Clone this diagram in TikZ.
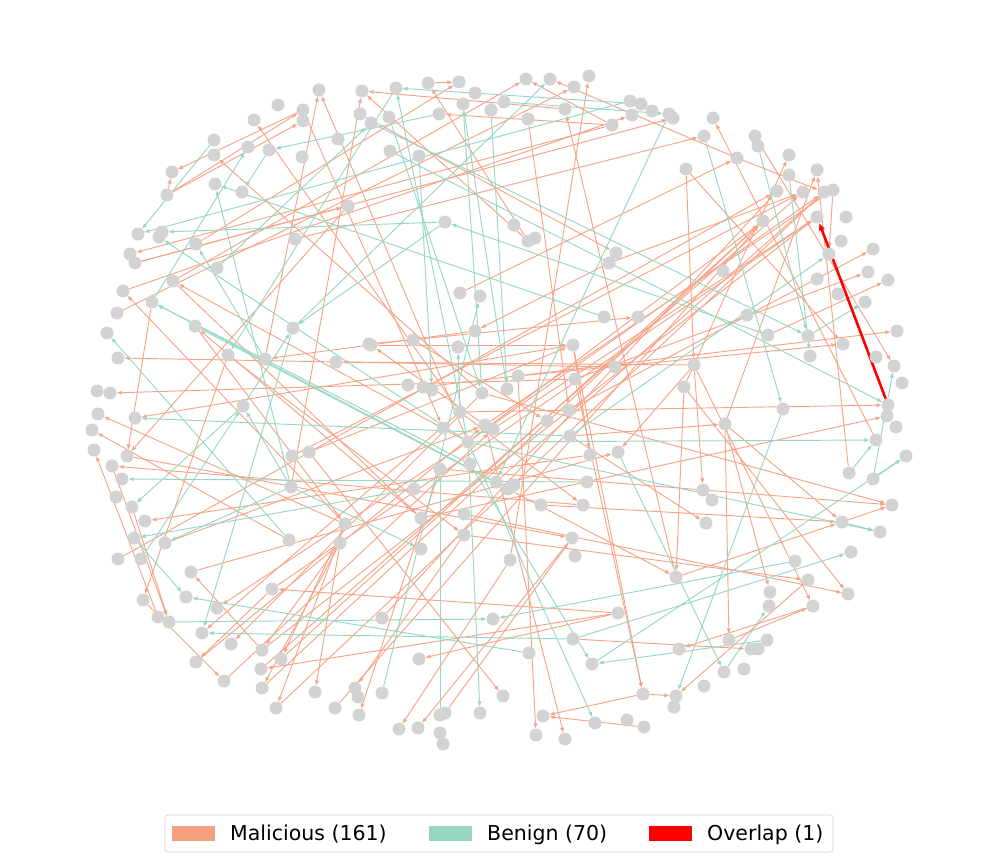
\documentclass[tikz,border=0pt]{standalone}
\usepackage{fontspec}
\setmainfont{DejaVu Sans}
\usetikzlibrary{arrows.meta}
\pgfdeclarelayer{bg}
\pgfsetlayers{bg,main}
\definecolor{ndc}{RGB}{211,211,211}
\definecolor{malc}{RGB}{246,164,136}
\definecolor{benc}{RGB}{152,215,195}
\definecolor{legmal}{RGB}{245,158,128}
\definecolor{legben}{RGB}{150,213,192}
\definecolor{legbox}{RGB}{210,210,210}
\begin{document}
\begin{tikzpicture}[x=1pt,y=-1pt,
  nd/.style={circle,fill=ndc,draw=none,inner sep=0pt,minimum size=13pt},
  mal/.style={draw=malc,line width=0.95pt,-{Triangle[length=5pt,width=3.6pt]}},
  ben/.style={draw=benc,line width=0.95pt,-{Triangle[length=5pt,width=3.6pt]}},
  ovl/.style={draw=red,line width=2.6pt,-{Triangle[length=7pt,width=5.5pt]}},
  legtext/.style={anchor=base west,inner sep=0pt,font=\fontsize{20.5}{24}\selectfont}]
\useasboundingbox (0,0) rectangle (997,859);
% nodes
\foreach \n/\x/\y in {a1/319/90, a2/362/91, a3/278/105, a4/303/110, a5/303/121, a6/254/120, a7/360/114, a8/371/123, a9/214/140, a10/214/155, a11/248/147, a12/269/150, a13/338/139, a14/302/157, a15/172/172, a16/167/195, a17/215/184, a18/242/192, a19/348/206, a20/138/234, a21/162/232, a22/159/237, a23/295/239, a24/196/244, a25/130/254, a26/135/263, a27/217/268, a28/173/281, a29/123/291, a30/152/302, a31/396/88, a32/428/83, a33/459/82, a34/475/93, a35/463/104, a36/491/110, a37/504/102, a38/526/79, a39/550/79, a40/574/87, a41/589/76, a42/565/109, a43/528/119, a44/612/125, a45/630/101, a46/641/104, a47/632/115, a48/652/111, a49/389/117, a50/439/114, a51/390/151, a52/419/156, a53/445/222, a54/514/225, a55/528/241, a56/535/238, a57/616/253, a58/609/263, a59/460/293, a60/480/296, a61/669/114, a62/673/118, a63/713/118, a64/704/136, a65/755/136, a66/758/146, a67/737/158, a68/686/169, a69/789/155, a70/817/170, a71/789/175, a72/777/191, a73/803/192, a74/824/192, a75/833/190, a76/817/217, a77/846/217, a78/763/221, a79/841/241, a80/829/254, a81/873/249, a82/868/272, a83/888/280, a84/817/279, a85/838/294, a86/865/302, a87/723/271}
  \node[nd] (\n) at (\x,\y) {};
\foreach \n/\x/\y in {b1/117/313, b2/107/333, b3/118/358, b4/195/326, b5/228/355, b6/265/359, b7/293/328, b8/336/362, b9/369/344, b10/97/391, b11/110/393, b12/98/414, b13/135/418, b14/92/430, b15/243/406, b16/94/450, b17/127/456, b18/112/466, b19/292/456, b20/309/452, b21/122/479, b22/116/497, b23/291/487, b24/132/507, b25/145/521, b26/345/524}
  \node[nd] (\n) at (\x,\y) {};
\foreach \n/\x/\y in {c1/604/317, c2/638/317, c3/475/331, c4/371/345, c5/413/340, c6/458/347, c7/573/345, c8/615/367, c9/518/376, c10/575/379, c11/408/385, c12/423/387, c13/432/390, c14/482/393, c15/507/389, c16/569/410, c17/460/412, c18/547/421, c19/443/428, c20/485/425, c21/493/429, c22/570/436, c23/468/442, c24/590/455, c25/618/452, c26/470/464, c27/440/469, c28/496/482, c29/508/489, c30/514/485, c31/587/482, c32/414/489, c33/541/505, c34/583/505, c35/464/514, c36/421/518}
  \node[nd] (\n) at (\x,\y) {};
\foreach \n/\x/\y in {d2/747/315, d3/768/335, d4/808/336, d5/843/344, d6/897/331, d7/810/356, d8/876/357, d9/894/366, d10/902/383, d11/694/365, d12/684/387, d13/783/409, d14/888/405, d15/887/416, d16/896/427, d17/725/424, d18/876/440, d19/906/456, d20/849/473, d21/873/479, d22/703/490, d23/712/500, d24/892/505, d25/706/523, d26/842/522, d27/880/532}
  \node[nd] (\n) at (\x,\y) {};
\foreach \n/\x/\y in {e1/134/538, e2/165/543, e3/118/559, e4/141/559, e5/289/540, e6/340/543, e7/191/572, e8/272/589, e9/143/600, e10/186/597, e11/158/617, e12/169/622, e13/217/608, e14/202/633, e15/231/644, e16/262/650, e17/281/659, e18/261/669, e19/196/662, e20/224/681, e21/262/688, e22/276/708, e23/315/692, e24/355/688, e25/358/697, e26/335/708, e27/359/715}
  \node[nd] (\n) at (\x,\y) {};
\foreach \n/\x/\y in {f2/464/535, f3/421/549, f4/572/538, f5/575/556, f6/510/560, f7/618/613, f8/493/619, f9/382/618, f10/573/639, f11/419/659, f12/529/653, f13/592/664, f14/382/693, f15/503/696, f16/643/694, f18/440/715, f19/445/713, f20/480/713, f21/543/716, f22/595/723, f23/627/720, f24/644/727, f25/399/729, f26/418/728, f27/440/733, f28/443/744, f29/536/735, f30/565/739}
  \node[nd] (\n) at (\x,\y) {};
\foreach \n/\x/\y in {g2/851/552, g3/795/561, g4/676/577, g5/808/580, g6/770/592, g7/769/606, g8/813/606, g9/848/594, g10/729/640, g11/767/640, g12/751/649, g13/758/649, g14/679/649, g15/724/672, g16/744/669, g17/704/686, g18/676/696, g19/674/707}
  \node[nd] (\n) at (\x,\y) {};
% edges
\begin{pgfonlayer}{bg}
\foreach \s/\t in {a4/a15, a16/a5, a16/a4, a16/a15, c17/a6, c23/a1, b23/a2, c14/a10, a26/a19, a44/a25, a28/a38, c23/a28, a19/b17, a23/a64, a42/a2, a44/a50, a32/a33, a55/a32, a24/a33, a67/a39, a44/a38, b1/a40, f6/a41, a43/c16, g4/a42, a55/a2, a7/a57, a26/a62, a29/a47, a58/a73, a58/c3, d18/a63, a68/d11, a68/d5, a59/a67, d12/a69, c23/a74, c28/a74, b19/a73, e16/a76, d17/a70, d20/a70, a75/a80, c16/a81, c10/a82, d3/a83, c12/d6, c22/d17, c9/d5, c17/d14, c36/d15, a65/d9, a67/a74, d11/d22, d11/g8, d12/g9, d12/g4, d17/d26, c27/d24, d26/d24, c14/d24, c33/d26, c22/d25, d17/g6, d17/g10, c29/g4, g4/d26, c35/g9, g10/g8, g8/g14, f10/g12, g5/g18, f16/g18, f2/g5, f6/f25, f4/f26, c9/f29, c20/f30, f16/f21, f24/f21, f7/e8, f7/e18, f7/f11, c7/f16, c10/f16, b20/f15, f19/f4, f2/e24, c27/e27, e7/c25, e16/e7, e9/e20, b24/e12, b18/e12, c23/e13, c17/e14, e8/e19, c14/e15, e6/e16, b26/e17, e6/e21, b26/e22, e6/e23, b26/a29, a30/b17, c8/b3, c10/b11, c7/b13, b26/b12, e5/b14, e11/b16, c34/b18, c24/b25, b17/f4, b4/b26, c36/b4, b5/e9, b5/f2, c3/b6, b6/a1, d11/b8, a28/c36, b20/c7, c4/c7, c5/c18, c20/c4, d11/c25, c7/c24, c17/c34, a4/c19, e17/a78, e21/a78, e22/a74, e18/a73, e26/a78, f9/a72, e3/a72, e8/a76, c23/a78, c21/a76, c20/a75, b9/c2, e19/c20, e20/c21, e2/c20}
  \draw[mal] (\s) -- (\t);
\foreach \s/\t in {a9/a20, a50/a12, a12/a18, a30/a11, c1/a17, a45/a20, a53/a21, a27/a8, b6/a24, c23/a22, a46/a31, b7/a39, a61/c28, c23/a31, c15/a35, c14/a35, a8/d4, d3/a53, a64/d13, a66/d4, a71/d7, c22/a80, d4/a86, a51/d14, c23/d27, d20/d18, d21/d9, d21/d19, c23/d18, g3/f8, f10/g2, f13/d19, g11/f13, g15/g7, c25/g15, d13/g18, b23/f3, f14/a60, c23/f22, c26/f13, c23/f20, f18/c27, e12/f8, f12/e10, c32/e1, b23/e2, e1/e10, b7/e14, f10/e14, e4/b15, c22/b13, c31/b21, b15/b24, c26/a30, c28/a30, b4/c29, a53/b7, b15/b7, b23/b15, b23/a17, a31/b5, a37/a61, e5/b2, a52/c13, a49/c14, c17/c6, a36/c15, d26/d27}
  \draw[ben] (\s) -- (\t);
\draw[ovl] (d14) -- (a76);
\end{pgfonlayer}
% legend
\node[draw=legbox,line width=0.8pt,rounded corners=3pt,fill=white,minimum width=668pt,minimum height=37pt,inner sep=0pt] (legend) at (499,833.5) {};
\node[fill=legmal,minimum width=43pt,minimum height=15pt,inner sep=0pt] (pmal) at (193.5,833) {};
\node[legtext] (tmal) at (230,840.5) {Malicious (161)};
\node[fill=legben,minimum width=43pt,minimum height=15pt,inner sep=0pt] (pben) at (450,833) {};
\node[legtext] (tben) at (487,840.5) {Benign (70)};
\node[fill=red,minimum width=43pt,minimum height=15pt,inner sep=0pt] (povl) at (670,833) {};
\node[legtext] (tovl) at (707,840.5) {Overlap (1)};
\end{tikzpicture}
\end{document}
